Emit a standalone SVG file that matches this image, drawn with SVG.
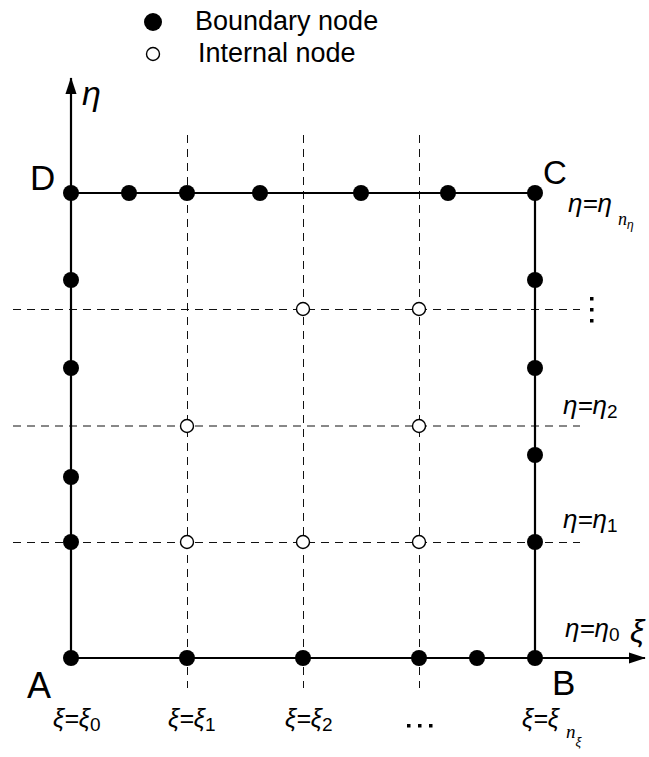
<svg xmlns="http://www.w3.org/2000/svg" width="649" height="757" viewBox="0 0 649 757">
<style>
.t{font-family:"Liberation Sans",Arial,sans-serif;fill:#000}
.m{font-family:"Liberation Sans",Arial,sans-serif;font-style:italic;fill:#000}
.s{font-family:"Liberation Sans",Arial,sans-serif;font-style:normal}
.ns{font-family:"Liberation Serif","Times New Roman",serif;font-style:italic}
.solid{stroke:#000;stroke-width:2.2;fill:none}
.dash{stroke:#111;stroke-width:1;stroke-dasharray:8,6;fill:none}
.bn{fill:#000}
.in{fill:#fff;stroke:#000;stroke-width:1.4}
</style>
<defs>
<marker id="ah" viewBox="0 0 10 10" refX="9.5" refY="5" markerWidth="17" markerHeight="17" markerUnits="userSpaceOnUse" orient="auto">
<path d="M0,1.7 L10,5 L0,8.3 z" fill="#000"/>
</marker>
</defs>
<g id="legend">
<circle class="bn" cx="153" cy="22" r="9"/>
<text class="t" x="195" y="30" font-size="27">Boundary node</text>
<circle class="in" cx="153" cy="54" r="6.5"/>
<text class="t" x="198" y="62" font-size="27">Internal node</text>
</g>
<g id="connectors">
<line class="dash" x1="187.5" y1="135" x2="187.5" y2="688"/>
<line class="dash" x1="303.5" y1="135" x2="303.5" y2="688"/>
<line class="dash" x1="419.5" y1="135" x2="419.5" y2="688"/>
<line class="dash" x1="13" y1="309.5" x2="580" y2="309.5"/>
<line class="dash" x1="13" y1="426" x2="580" y2="426" stroke-width="1.6" stroke="#000"/>
<line class="dash" x1="13" y1="542.5" x2="580" y2="542.5"/>
<line class="solid" x1="71" y1="658" x2="71" y2="78" marker-end="url(#ah)"/>
<line class="solid" x1="71" y1="658" x2="645" y2="658" marker-end="url(#ah)"/>
<line class="solid" x1="71" y1="193" x2="535" y2="193"/>
<line class="solid" x1="535" y1="193" x2="535" y2="658"/>
</g>
<g id="boundary-nodes">
<circle class="bn" cx="71" cy="193" r="8"/>
<circle class="bn" cx="129" cy="193" r="8"/>
<circle class="bn" cx="187" cy="193" r="8"/>
<circle class="bn" cx="260" cy="193" r="8"/>
<circle class="bn" cx="361" cy="193" r="8"/>
<circle class="bn" cx="448" cy="193" r="8"/>
<circle class="bn" cx="535" cy="193" r="8"/>
<circle class="bn" cx="71" cy="280" r="8"/>
<circle class="bn" cx="71" cy="368" r="8"/>
<circle class="bn" cx="71" cy="477" r="8"/>
<circle class="bn" cx="71" cy="542" r="8"/>
<circle class="bn" cx="71" cy="658" r="8"/>
<circle class="bn" cx="535" cy="280" r="8"/>
<circle class="bn" cx="535" cy="368" r="8"/>
<circle class="bn" cx="535" cy="455" r="8"/>
<circle class="bn" cx="535" cy="542" r="8"/>
<circle class="bn" cx="535" cy="658" r="8"/>
<circle class="bn" cx="187" cy="658" r="8"/>
<circle class="bn" cx="303" cy="658" r="8"/>
<circle class="bn" cx="419" cy="658" r="8"/>
<circle class="bn" cx="477" cy="658" r="8"/>
</g>
<g id="internal-nodes">
<circle class="in" cx="303" cy="309" r="6.5"/>
<circle class="in" cx="419" cy="309" r="6.5"/>
<circle class="in" cx="187" cy="426" r="6.5"/>
<circle class="in" cx="419" cy="426" r="6.5"/>
<circle class="in" cx="187" cy="542" r="6.5"/>
<circle class="in" cx="303" cy="542" r="6.5"/>
<circle class="in" cx="419" cy="542" r="6.5"/>
</g>
<g id="labels">
<text class="m" x="82" y="105" font-size="34">η</text>
<text class="t" x="30" y="190" font-size="35">D</text>
<text class="t" x="543" y="184" font-size="33">C</text>
<text class="t" x="27" y="698" font-size="36">A</text>
<text class="t" x="552" y="695" font-size="35">B</text>
<text class="m" x="630" y="642" font-size="32">ξ</text>
<text class="m" x="568" y="212" font-size="26">η=η<tspan class="ns" font-size="18" dx="6" dy="13">n</tspan><tspan class="m" font-size="12" dy="4">η</tspan></text>
<g id="vdots"><rect x="590" y="297" width="3.5" height="3.5"/><rect x="590" y="308" width="3.5" height="3.5"/><rect x="590" y="319" width="3.5" height="3.5"/></g>
<text class="m" x="563" y="414" font-size="26">η=η<tspan class="s" font-size="19" dy="4">2</tspan></text>
<text class="m" x="563" y="528" font-size="26">η=η<tspan class="s" font-size="19" dy="4">1</tspan></text>
<text class="m" x="565" y="637" font-size="26">η=η<tspan class="s" font-size="19" dy="4">0</tspan></text>
<text class="m" x="53" y="727" font-size="25">ξ=ξ<tspan class="s" font-size="19" dy="4">0</tspan></text>
<text class="m" x="168" y="727" font-size="25">ξ=ξ<tspan class="s" font-size="19" dy="4">1</tspan></text>
<text class="m" x="285" y="727" font-size="25">ξ=ξ<tspan class="s" font-size="19" dy="4">2</tspan></text>
<g id="hdots"><rect x="407" y="724" width="3.5" height="3.5"/><rect x="418" y="724" width="3.5" height="3.5"/><rect x="429" y="724" width="3.5" height="3.5"/></g>
<text class="m" x="522" y="727" font-size="25">ξ=ξ<tspan class="ns" font-size="19" dx="7" dy="11">n</tspan><tspan class="m" font-size="13" dy="8">ξ</tspan></text>
</g>
</svg>
